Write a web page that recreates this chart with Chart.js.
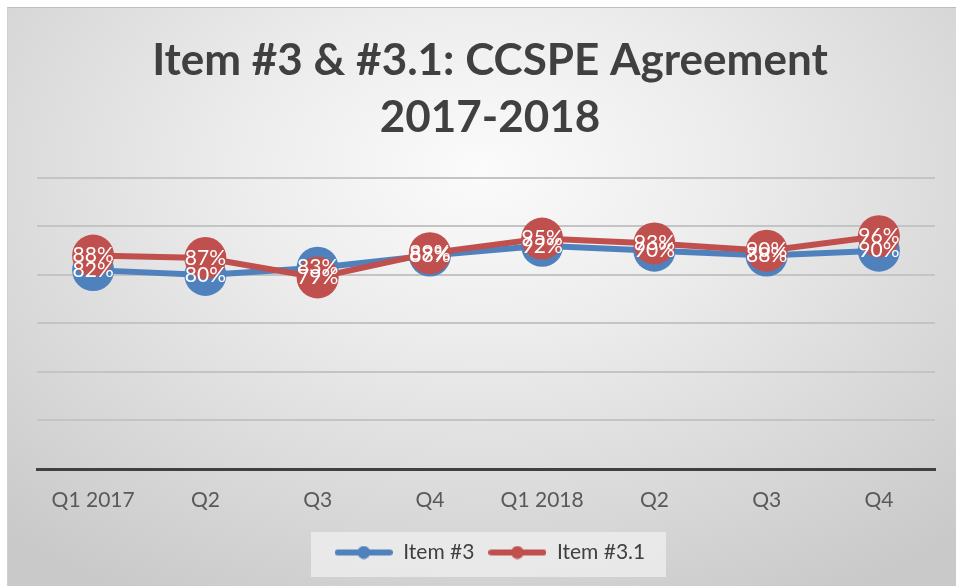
<!DOCTYPE html>
<html>
<head>
<meta charset="utf-8">
<script src="https://cdn.jsdelivr.net/npm/chart.js@4.4.1/dist/chart.umd.min.js"></script>
<style>
  html, body { margin:0; padding:0; background:#ffffff; width:956px; height:586px; overflow:hidden; }
  #wrap { position:absolute; left:7px; top:7px; width:949px; height:579px;
    border-top:1px solid #bdbdbd; border-left:1px solid #d0d0d0; box-sizing:border-box;
    background: radial-gradient(ellipse 75% 85% at 50% 28%, #fbfbfb 0%, #ececec 35%, #d9d9d9 70%, #c9c9c9 100%); }
  canvas { display:block; }
</style>
</head>
<body>
<div id="wrap"><canvas id="c" width="948" height="578"></canvas></div>
<script>
const titleLines = ['Item #3 & #3.1: CCSPE Agreement', '2017-2018'];
const categories = ['Q1 2017', 'Q2', 'Q3', 'Q4', 'Q1 2018', 'Q2', 'Q3', 'Q4'];
const seriesNames = ['Item #3', 'Item #3.1'];
const item3 = [82, 80, 83, 88, 92, 90, 88, 90];
const item31 = [88, 87, 79, 89, 95, 93, 90, 96];
const yTicks = [0, 20, 40, 60, 80, 100, 120];

const BLUE = '#4f81bd', RED = '#c0504d';
const FONT = 'Lato, "Open Sans", sans-serif';

function legendMarker(color) {
  const c = document.createElement('canvas');
  c.width = 58; c.height = 14;
  const g = c.getContext('2d');
  g.strokeStyle = color; g.lineWidth = 6; g.lineCap = 'round';
  g.beginPath(); g.moveTo(3, 7); g.lineTo(55, 7); g.stroke();
  g.fillStyle = color; g.beginPath(); g.arc(29, 7, 6.5, 0, Math.PI * 2); g.fill();
  return c;
}

const labelPlugin = {
  id: 'pctLabels',
  afterDatasetsDraw(chart) {
    const ctx = chart.ctx;
    ctx.save();
    ctx.font = '21px ' + FONT;
    ctx.fillStyle = '#ffffff';
    ctx.textAlign = 'center';
    ctx.textBaseline = 'middle';
    chart.data.datasets.forEach((ds, i) => {
      const meta = chart.getDatasetMeta(i);
      meta.data.forEach((pt, j) => {
        ctx.fillText(ds.data[j] + '%', pt.x, pt.y);
      });
    });
    ctx.restore();
  }
};

const legendBg = {
  id: 'legendBg',
  beforeDraw(chart) {
    const ctx = chart.ctx;
    ctx.save();
    ctx.fillStyle = 'rgba(236,236,236,0.85)';
    const w = 355, h = 45;
    const cx = 487.5 - 7;
    ctx.fillRect(cx - w / 2, 524, w, h);
    ctx.restore();
  }
};

new Chart(document.getElementById('c'), {
  type: 'line',
  data: {
    labels: categories,
    datasets: [
      { label: seriesNames[0], data: item3, borderColor: BLUE, backgroundColor: BLUE,
        pointBackgroundColor: BLUE, pointBorderWidth: 0, pointRadius: 21, borderWidth: 6,
        tension: 0, order: 1 },
      { label: seriesNames[1], data: item31, borderColor: RED, backgroundColor: RED,
        pointBackgroundColor: RED, pointBorderWidth: 0, pointRadius: 21, borderWidth: 6,
        tension: 0, order: 0 }
    ]
  },
  options: {
    responsive: false,
    animation: false,
    layout: { padding: { left: 29, right: 13, top: 0, bottom: 13 } },
    plugins: {
      title: {
        display: true,
        text: titleLines,
        color: '#404040',
        font: { family: FONT, size: 44, weight: 'bold', lineHeight: 1.295 },
        padding: { top: 24, bottom: 32 }
      },
      legend: {
        position: 'bottom',
        labels: {
          color: '#404040',
          font: { family: FONT, size: 21 },
          usePointStyle: true,
          pointStyleWidth: 58,
          boxWidth: 58,
          boxHeight: 14,
          padding: 14,
          generateLabels(chart) {
            return chart.data.datasets.map((ds, i) => ({
              text: ds.label,
              fillStyle: ds.borderColor,
              strokeStyle: ds.borderColor,
              fontColor: '#404040',
              pointStyle: legendMarker(ds.borderColor),
              lineWidth: 0,
              hidden: false,
              datasetIndex: i
            }));
          }
        }
      },
      tooltip: { enabled: false }
    },
    scales: {
      x: {
        offset: true,
        afterFit(axis) { axis.height = 59; },
        grid: { display: false, drawTicks: false },
        border: { display: true, color: '#404040', width: 3 },
        ticks: { color: '#595959', font: { family: FONT, size: 21 }, padding: 19 }
      },
      y: {
        min: yTicks[0],
        max: yTicks[yTicks.length - 1],
        afterBuildTicks(axis) { axis.ticks = yTicks.map(v => ({ value: v })); },
        ticks: { display: false },
        grid: { color: '#c4c4c4', lineWidth: 2, drawTicks: false },
        border: { display: false }
      }
    }
  },
  plugins: [legendBg, labelPlugin]
});
</script>
</body>
</html>
